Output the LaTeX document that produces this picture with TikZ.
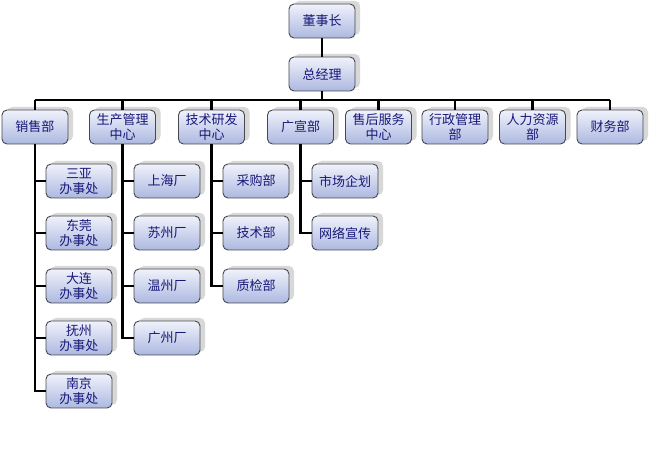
\documentclass[tikz,border=0pt]{standalone}
\usepackage{fontspec}
\newfontfamily\cjk{Noto Sans CJK SC}
\usetikzlibrary{shadows, positioning}
\definecolor{boxtop}{RGB}{240,242,251}
\definecolor{boxbottom}{RGB}{172,184,224}
\definecolor{boxtext}{RGB}{24,24,120}
\definecolor{boxline}{RGB}{70,72,80}
\tikzset{
  unit/.style={draw=boxline, line width=0.9pt, rounded corners=5pt,
    top color=boxtop, bottom color=boxbottom,
    minimum width=66pt, minimum height=34pt, inner sep=1pt,
    align=center, text=boxtext, font={\cjk\fontsize{13}{15}\selectfont},
    drop shadow={shadow xshift=5pt, shadow yshift=3pt, fill=black!30}},
  link/.style={line width=2.6pt}
}
\begin{document}
\begin{tikzpicture}[x=1pt, y=-1pt]
    \useasboundingbox[fill=white] (0,0) rectangle (649,462);

    % --- Top ---
    \node[unit] (chair) at (322,21) {董事长};
    \node[unit] (gm) at (322,74) {总经理};
    \coordinate (bus) at (0,100);

    % --- Departments ---
    \node[unit] (sales) at (35,127) {销售部};
    \node[unit] (prod) at (122.5,127) {生产管理\\中心};
    \node[unit] (tech) at (211.5,127) {技术研发\\中心};
    \node[unit] (ad) at (300.5,127) {广宣部};
    \node[unit] (service) at (378.5,127) {售后服务\\中心};
    \node[unit] (admin) at (455,127) {行政管理\\部};
    \node[unit] (hr) at (532.5,127) {人力资源\\部};
    \node[unit] (finance) at (610,127) {财务部};

    % --- Sales offices ---
    \node[unit] (s1) at (79,181) {三亚\\办事处};
    \node[unit] (s2) at (79,233) {东莞\\办事处};
    \node[unit] (s3) at (79,286) {大连\\办事处};
    \node[unit] (s4) at (79,338) {抚州\\办事处};
    \node[unit] (s5) at (79,391) {南京\\办事处};

    % --- Factories ---
    \node[unit] (p1) at (167,181) {上海厂};
    \node[unit] (p2) at (167,233) {苏州厂};
    \node[unit] (p3) at (167,286) {温州厂};
    \node[unit] (p4) at (167,338) {广州厂};

    % --- R&D ---
    \node[unit] (t1) at (256,181) {采购部};
    \node[unit] (t2) at (256,233) {技术部};
    \node[unit] (t3) at (256,286) {质检部};

    % --- Publicity ---
    \node[unit] (a1) at (345,181) {市场企划};
    \node[unit] (a2) at (345,233) {网络宣传};

    % --- Connectors ---
    \draw[link] (chair) -- (gm);
    \draw[link] (gm.south) -- (gm.south |- bus);
    \draw[link] (sales.north |- bus) -- (finance.north |- bus);
    \foreach \n in {sales,prod,tech,ad,service,admin,hr,finance}
      \draw[link] (\n.north) -- (\n.north |- bus);
    \foreach \n in {s1,s2,s3,s4,s5}
      \draw[link] (sales.south) |- (\n.west);
    \foreach \n in {p1,p2,p3,p4}
      \draw[link] (prod.south) |- (\n.west);
    \foreach \n in {t1,t2,t3}
      \draw[link] (tech.south) |- (\n.west);
    \foreach \n in {a1,a2}
      \draw[link] (ad.south) |- (\n.west);

\end{tikzpicture}
\end{document}
